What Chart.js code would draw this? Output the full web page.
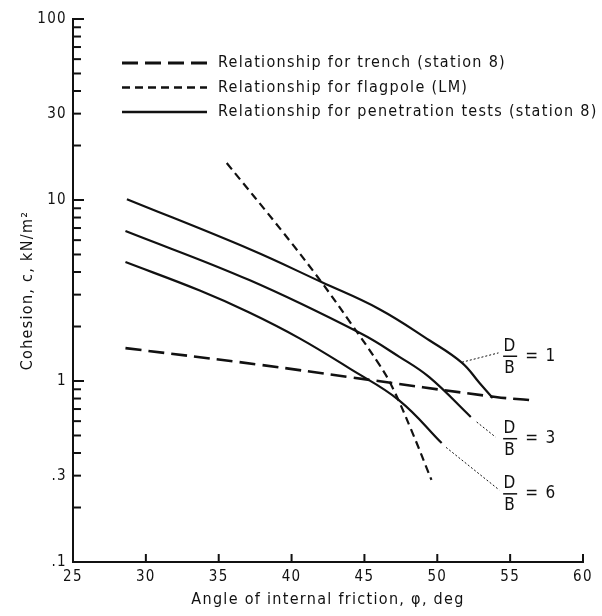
<!DOCTYPE html>
<html lang="en">
<head>
<meta charset="UTF-8">
<title>Cohesion vs angle of internal friction</title>
<script src="https://cdn.jsdelivr.net/npm/chart.js"></script>
<style>
    body { margin: 0; background: #fff; }
    .chart-box { width: 602px; height: 616px; position: relative; }
</style>
</head>
<body>
<div class="chart-box"><canvas id="cohesionChart"></canvas></div>
<script>
const FONT = "'DejaVu Sans Condensed', 'Liberation Sans Narrow', 'DejaVu Sans', sans-serif";
const INK = '#111';
const SPACING = '1.3px';

// axis ticks
const xTicks = [25, 30, 35, 40, 45, 50, 55, 60];
const yTickValues = [0.1, 0.3, 1, 10, 30, 100];
const yTickLabels = ['.1', '.3', '1', '10', '30', '100'];
const yMinorTicks = [0.2, 0.3, 0.4, 0.5, 0.6, 0.7, 0.8, 0.9, 2, 3, 4, 5, 6, 7, 8, 9, 20, 30, 40, 50, 60, 70, 80, 90];
const yMajorTicks = [0.1, 1, 10, 100];

// relationship for trench (station 8)
const trenchPhi = [28.6, 37.8, 44.0, 54.0, 56.3];
const trenchC   = [1.52, 1.23, 1.05, 0.816, 0.785];

// relationship for flagpole (LM)
const flagPhi = [35.55, 39.4, 42.05, 44.0, 46.0, 46.9, 48.2, 49.6];
const flagC   = [16.0, 6.65, 3.52, 2.12, 1.24, 0.93, 0.54, 0.284];

// relationships for penetration tests (station 8), D/B = 1, 3, 6
const db1Phi = [28.7, 37.1, 42.05, 46.0, 49.45, 51.7, 52.9, 53.8];
const db1C   = [10.1, 5.36, 3.52, 2.5, 1.68, 1.26, 0.975, 0.805];
const db3Phi = [28.6, 37.1, 44.7, 47.4, 49.45, 52.3];
const db3C   = [6.74, 3.61, 1.84, 1.36, 1.05, 0.633];
const db6Phi = [28.6, 33.7, 37.1, 40.55, 44.0, 47.4, 50.3];
const db6C   = [4.54, 3.16, 2.39, 1.72, 1.17, 0.78, 0.454];

// D/B curve labels (fraction centre) and their dotted leaders
const dbNames   = ['1', '3', '6'];
const dbLabelX  = [55.0, 55.0, 55.0];
const dbLabelY  = [1.37, 0.48, 0.238];
const leadFromX = [51.7, 52.7, 50.6];
const leadFromY = [1.27, 0.594, 0.43];
const leadToX   = [54.2, 54.0, 54.25];
const leadToY   = [1.43, 0.49, 0.25];

const legendNames = [
    'Relationship for trench (station 8)',
    'Relationship for flagpole (LM)',
    'Relationship for penetration tests (station 8)'
];

function pts(xs, ys) { return xs.map((x, i) => ({ x: x, y: ys[i] })); }

function lineSet(label, xs, ys, dash, width) {
    return {
        label: label,
        data: pts(xs, ys),
        borderColor: INK,
        borderWidth: width,
        borderDash: dash,
        pointRadius: 0,
        fill: false,
        tension: 0.4
    };
}

const TRENCH_DASH = [16, 7];
const FLAG_DASH = [8, 5];

// letter spacing for the old lettering look (canvas state is reset on resize)
const spacingPlugin = {
    id: 'spacing',
    beforeLayout(chart) { chart.ctx.letterSpacing = SPACING; },
    beforeDraw(chart) { chart.ctx.letterSpacing = SPACING; }
};

// inward ticks, legend inside the plot and D/B labels
const extrasPlugin = {
    id: 'extras',
    afterDraw(chart) {
        const ctx = chart.ctx;
        const xs = chart.scales.x, ys = chart.scales.y;
        const area = chart.chartArea;
        ctx.save();
        ctx.strokeStyle = INK;
        ctx.lineWidth = 2;
        // y ticks pointing into the plot
        yMajorTicks.concat(yMinorTicks).forEach(v => {
            const y = ys.getPixelForValue(v);
            const len = yMajorTicks.includes(v) ? 11 : 8;
            ctx.beginPath();
            ctx.moveTo(area.left, y);
            ctx.lineTo(area.left + len, y);
            ctx.stroke();
        });
        // x ticks pointing up
        xTicks.slice(1).forEach(v => {
            const x = xs.getPixelForValue(v);
            ctx.beginPath();
            ctx.moveTo(x, area.bottom);
            ctx.lineTo(x, area.bottom - 8);
            ctx.stroke();
        });

        // legend
        const styles = [[TRENCH_DASH, 3], [FLAG_DASH, 2.5], [[], 2.5]];
        ctx.font = '16px ' + FONT;
        ctx.fillStyle = INK;
        ctx.textBaseline = 'middle';
        legendNames.forEach((name, i) => {
            const y = area.top + 44 + i * 24.5;
            ctx.setLineDash(styles[i][0]);
            ctx.lineWidth = styles[i][1];
            ctx.beginPath();
            ctx.moveTo(area.left + 49, y);
            ctx.lineTo(area.left + 134, y);
            ctx.stroke();
            ctx.setLineDash([]);
            ctx.fillText(name, area.left + 145, y);
        });

        // D/B labels
        ctx.font = '17px ' + FONT;
        dbNames.forEach((n, i) => {
            ctx.setLineDash([2, 2]);
            ctx.lineWidth = 1;
            ctx.beginPath();
            ctx.moveTo(xs.getPixelForValue(leadFromX[i]), ys.getPixelForValue(leadFromY[i]));
            ctx.lineTo(xs.getPixelForValue(leadToX[i]), ys.getPixelForValue(leadToY[i]));
            ctx.stroke();
            ctx.setLineDash([]);
            const cx = xs.getPixelForValue(dbLabelX[i]);
            const cy = ys.getPixelForValue(dbLabelY[i]);
            ctx.textAlign = 'center';
            ctx.fillText('D', cx, cy - 10);
            ctx.fillText('B', cx, cy + 12);
            ctx.lineWidth = 1.5;
            ctx.beginPath();
            ctx.moveTo(cx - 7, cy);
            ctx.lineTo(cx + 7, cy);
            ctx.stroke();
            ctx.textAlign = 'left';
            ctx.fillText('= ' + n, cx + 15, cy);
        });
        ctx.restore();
    }
};

new Chart(document.getElementById('cohesionChart'), {
    type: 'line',
    data: {
        datasets: [
            lineSet('trench', trenchPhi, trenchC, TRENCH_DASH, 2.6),
            lineSet('flagpole', flagPhi, flagC, FLAG_DASH, 2.2),
            lineSet('D/B = 1', db1Phi, db1C, [], 2.2),
            lineSet('D/B = 3', db3Phi, db3C, [], 2.2),
            lineSet('D/B = 6', db6Phi, db6C, [], 2.2)
        ]
    },
    options: {
        responsive: true,
        maintainAspectRatio: false,
        animation: false,
        layout: { padding: { top: 19, right: 19, left: 0, bottom: 0 } },
        plugins: {
            legend: { display: false },
            tooltip: { enabled: false }
        },
        scales: {
            x: {
                type: 'linear',
                min: 25,
                max: 60,
                afterBuildTicks: s => { s.ticks = xTicks.map(v => ({ value: v })); },
                afterFit: s => { s.height = 54; },
                grid: { display: false, drawTicks: false },
                border: { display: true, color: INK, width: 2 },
                ticks: { color: INK, padding: 6, font: { family: FONT, size: 15 }, autoSkip: false, maxRotation: 0 },
                title: {
                    display: true,
                    text: 'Angle of internal friction, \u03c6, deg',
                    color: INK,
                    font: { family: FONT, size: 16 },
                    padding: { top: 0, bottom: 7 }
                }
            },
            y: {
                type: 'logarithmic',
                min: 0.1,
                max: 100,
                afterBuildTicks: s => { s.ticks = yTickValues.map(v => ({ value: v })); },
                afterFit: s => { s.width = 73; },
                grid: { display: false, drawTicks: false },
                border: { display: true, color: INK, width: 2 },
                ticks: {
                    color: INK,
                    padding: 6,
                    autoSkip: false,
                    font: { family: FONT, size: 15 },
                    callback: v => {
                        const i = yTickValues.findIndex(t => Math.abs(t - v) < 1e-9);
                        return i >= 0 ? yTickLabels[i] : '';
                    }
                },
                title: {
                    display: true,
                    text: 'Cohesion, c, kN/m\u00b2',
                    color: INK,
                    font: { family: FONT, size: 16 },
                    padding: { top: 18, bottom: 0 }
                }
            }
        }
    },
    plugins: [spacingPlugin, extrasPlugin]
});
</script>
</body>
</html>
